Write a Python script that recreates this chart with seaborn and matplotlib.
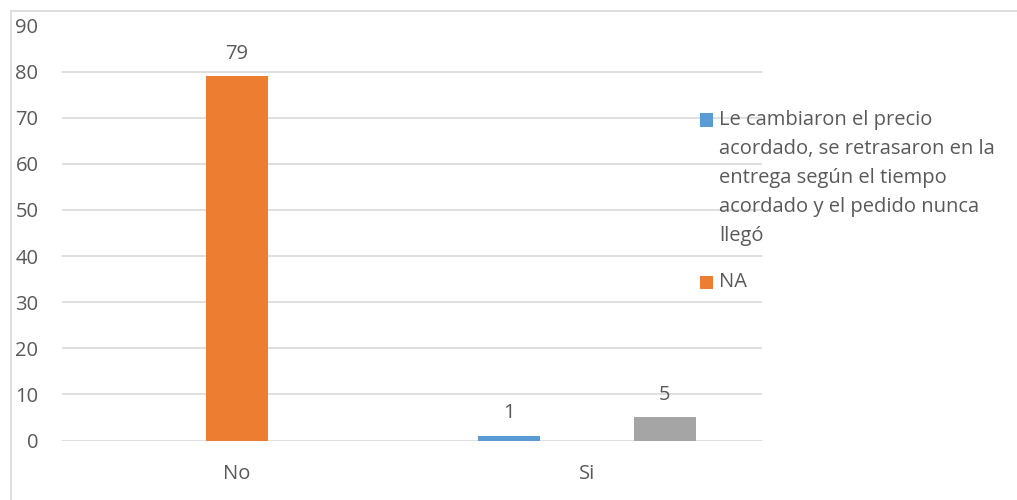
import matplotlib
matplotlib.use("Agg")
import matplotlib.pyplot as plt
import matplotlib.patches as mpatches
import matplotlib.lines as mlines
import seaborn as sns
import pandas as pd

# Data
categories = ["No", "Si"]
series_names = [
    "Le cambiaron el precio acordado, se retrasaron en la entrega según el tiempo acordado y el pedido nunca llegó",
    "NA",
    "",
]
legend_lines = [
    "Le cambiaron el precio",
    "acordado, se retrasaron en la",
    "entrega según el tiempo",
    "acordado y el pedido nunca",
    "llegó",
]
values_cambiaron = [0, 1]
values_na = [79, 0]
values_third = [0, 5]
y_ticks = [0, 10, 20, 30, 40, 50, 60, 70, 80, 90]

colors = ["#5B9BD5", "#ED7D31", "#A5A5A5"]
text_color = "#595959"
grid_color = "#D9D9D9"
font = "Open Sans"
fs = 14.5

df = pd.DataFrame({
    "cat": categories * 3,
    "serie": [series_names[0]] * 2 + [series_names[1]] * 2 + [series_names[2]] * 2,
    "valor": values_cambiaron + values_na + values_third,
})

sns.set_theme(style="white")
plt.rcParams["font.family"] = [font, "DejaVu Sans"]

fig = plt.figure(figsize=(10.17, 5.0), dpi=100)
ax = fig.add_axes([62 / 1017, 59.5 / 500, 700 / 1017, 415 / 500])

sns.barplot(data=df, x="cat", y="valor", hue="serie", hue_order=series_names,
            order=categories, palette=colors, width=2 / 3, gap=0.2,
            legend=False, ax=ax, saturation=1, linewidth=0,
            err_kws={"linewidth": 0})

for cont in ax.containers:
    labels = [f"{b.get_height():g}" if b.get_height() > 0 else "" for b in cont]
    ax.bar_label(cont, labels=labels, padding=9, color=text_color, fontsize=fs)

ax.set_xlim(-0.5, 1.5)
ax.set_ylim(0, 90)
ax.set_yticks(y_ticks)
ax.yaxis.grid(True, color=grid_color, linewidth=1.2)
ax.set_axisbelow(True)
for s in ax.spines.values():
    s.set_visible(False)
ax.tick_params(axis="both", length=0, labelsize=fs, labelcolor=text_color)
ax.tick_params(axis="y", pad=17)
ax.tick_params(axis="x", pad=17)
ax.set_xlabel("")
ax.set_ylabel("")

# Chart border (top and left edges)
fig.add_artist(mlines.Line2D([11 / 1017, 1], [1 - 11 / 500, 1 - 11 / 500],
                             transform=fig.transFigure, color=grid_color, linewidth=1.2))
fig.add_artist(mlines.Line2D([11 / 1017, 11 / 1017], [0, 1 - 11 / 500],
                             transform=fig.transFigure, color=grid_color, linewidth=1.2))

# Legend
def px(x, y):
    return x / 1017, 1 - y / 500

sq = 13
for lines, col, y0 in [(legend_lines, colors[0], 120), (["NA"], colors[1], 282)]:
    x0, yy = px(700, y0 + sq / 2)
    fig.add_artist(mpatches.Rectangle((x0, yy), sq / 1017, sq / 500,
                                      transform=fig.transFigure, color=col, linewidth=0))
    for j, line in enumerate(lines):
        tx, ty = px(719, y0 + 29 * j)
        fig.text(tx, ty, line, ha="left", va="center", color=text_color, fontsize=fs)

fig.savefig("out.png", dpi=100)
